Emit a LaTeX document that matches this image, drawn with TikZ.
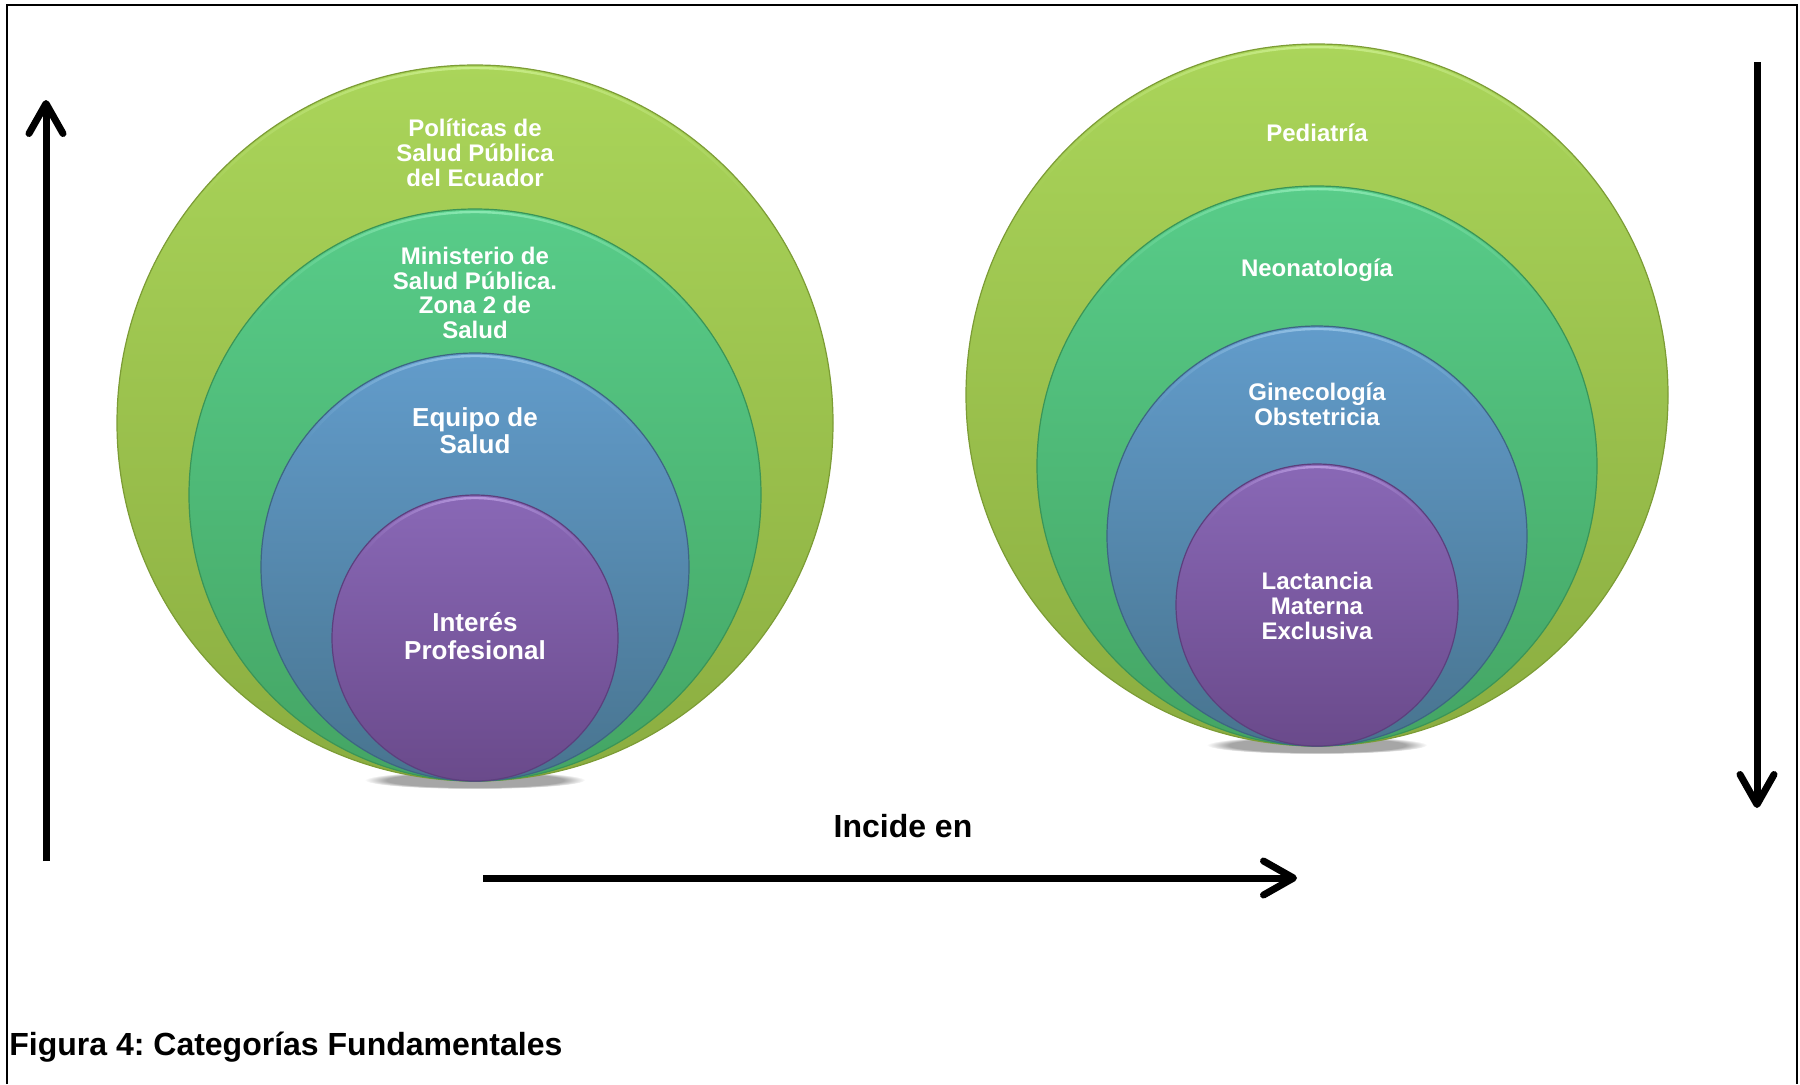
\documentclass[tikz,border=0pt]{standalone}
\usepackage{fontspec}
\setmainfont{Liberation Sans}
\usetikzlibrary{arrows.meta,fadings}
\frenchspacing

\definecolor{limeT}{HTML}{AAD55A}
\definecolor{limeB}{HTML}{8BAD40}
\definecolor{limeE}{HTML}{7C9C35}
\definecolor{limeH}{HTML}{D4F59A}
\definecolor{grnT}{HTML}{58CC89}
\definecolor{grnB}{HTML}{44A564}
\definecolor{grnE}{HTML}{3A9557}
\definecolor{grnH}{HTML}{9CF2C0}
\definecolor{bluT}{HTML}{629CCB}
\definecolor{bluB}{HTML}{48748F}
\definecolor{bluE}{HTML}{3D6682}
\definecolor{bluH}{HTML}{A6D0F0}
\definecolor{purT}{HTML}{8968B6}
\definecolor{purB}{HTML}{6A4A8B}
\definecolor{purE}{HTML}{5C3F7D}
\definecolor{purH}{HTML}{C6A9EC}

\tikzfading[name=rimfade, left color=transparent!100, right color=transparent!100,
  middle color=transparent!0]

\tikzset{
  x=0.5pt, y=-0.5pt,
  ring/.style n args={3}{circle, inner sep=0pt, outer sep=0pt,
    top color=#1, bottom color=#2, draw=#3, line width=0.6pt},
  lbl/.style={text=white, align=center, inner sep=0pt,
    font=\fontsize{12}{12.4}\selectfont\bfseries},
  lblbig/.style={lbl, font=\fontsize{13}{13.6}\selectfont\bfseries},
  bigarrow/.style={line width=3.5pt,
    -{Straight Barb[length=15pt,width=17pt,line cap=round,round]}},
  frameline/.style={line width=1.2pt},
}

\begin{document}
\begin{tikzpicture}
\useasboundingbox (0,0) rectangle (1800,1084);

% page frame (open at the bottom)
\draw[frameline] (7,1084) -- (7,5) -- (1797,5) -- (1797,1084);

% soft shadows under the tangent points
\fill[black, opacity=0.35, path fading=circle with fuzzy edge 20 percent]
  (475,780) ellipse [x radius=110, y radius=9];
\fill[black, opacity=0.35, path fading=circle with fuzzy edge 20 percent]
  (1317,745) ellipse [x radius=110, y radius=9];

% left set of nested circles (tangent at the bottom, y = 781)
\foreach \n/\r/\ct/\cb/\ce/\ch in {
    L1/358/limeT/limeB/limeE/limeH,
    L2/286/grnT/grnB/grnE/grnH,
    L3/214/bluT/bluB/bluE/bluH,
    L4/143/purT/purB/purE/purH}{
  \node[ring={\ct}{\cb}{\ce}, minimum size=\r pt] (\n) at (475,781-\r) {};
  \draw[\ch, line width=1.2pt, opacity=0.75, path fading=rimfade]
    (\n.center) ++(215:\r-3) arc[start angle=215, end angle=325, radius=\r-3];
}

% right set of nested circles (tangent at the bottom, y = 746)
\foreach \n/\r/\ct/\cb/\ce/\ch in {
    R1/351/limeT/limeB/limeE/limeH,
    R2/280/grnT/grnB/grnE/grnH,
    R3/210/bluT/bluB/bluE/bluH,
    R4/141/purT/purB/purE/purH}{
  \node[ring={\ct}{\cb}{\ce}, minimum size=\r pt] (\n) at (1317,746-\r) {};
  \draw[\ch, line width=1.2pt, opacity=0.75, path fading=rimfade]
    (\n.center) ++(215:\r-3) arc[start angle=215, end angle=325, radius=\r-3];
}

% labels, left
\node[lbl] (tL1) at (475,153) {Políticas de\\Salud Pública\\del Ecuador};
\node[lbl] (tL2) at (475,293) {Ministerio de\\Salud Pública.\\Zona 2 de\\Salud};
\node[lblbig] (tL3) at (475,431) {Equipo de\\Salud};
\node[lblbig] (tL4) at (475,636) {Interés\\Profesional};

% labels, right
\node[lbl] (tR1) at (1317,133) {Pediatría};
\node[lbl] (tR2) at (1317,270) {Neonatología};
\node[lbl] (tR3) at (1317,404) {Ginecología\\Obstetricia};
\node[lbl] (tR4) at (1317,606) {Lactancia\\Materna\\Exclusiva};

% arrows
\coordinate (upS) at (46,861);
\coordinate (upE) at (46,100);
\coordinate (dnS) at (1757,62);
\coordinate (dnE) at (1757,808);
\coordinate (hzS) at (483,878);
\coordinate (hzE) at (1297,878);
\draw[bigarrow] (upS) -- (upE);
\draw[bigarrow] (dnS) -- (dnE);
\draw[bigarrow] (hzS) -- (hzE);

\node[font=\fontsize{16}{18}\selectfont\bfseries] (incide) at (903,826) {Incide en};

% caption
\node[anchor=west, inner sep=0pt, font=\fontsize{16}{18}\selectfont\bfseries]
  (caption) at (9,1047) {Figura 4: Categorías Fundamentales};
\end{tikzpicture}
\end{document}
